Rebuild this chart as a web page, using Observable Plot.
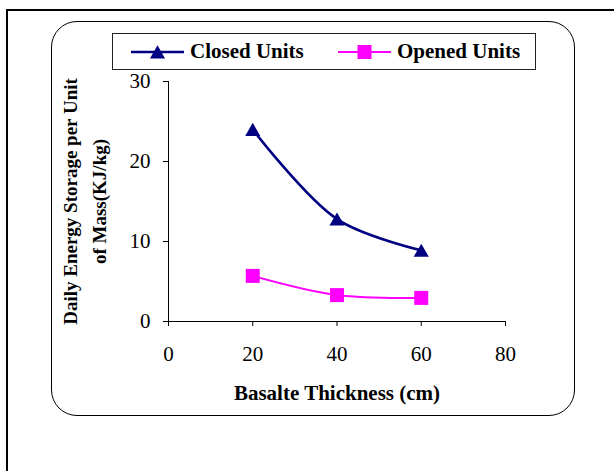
<!DOCTYPE html>
<html>
<head>
<meta charset="utf-8">
<script src="https://cdn.jsdelivr.net/npm/d3@7"></script>
<script src="https://cdn.jsdelivr.net/npm/@observablehq/plot@0.6"></script>
<style>
html, body { margin: 0; padding: 0; background: #fff; overflow: hidden; }
#wrap { position: relative; width: 614px; height: 471px; overflow: hidden; font-family: "Liberation Serif", "Times New Roman", serif; }
#outer { position: absolute; left: 6px; top: 9px; width: 700px; height: 600px; border: 2px solid #000; }
#panel { position: absolute; left: 51px; top: 21px; width: 524px; height: 395px; border: 1px solid #000; border-radius: 26px; box-sizing: border-box; }
#chart { position: absolute; left: 0; top: 0; }
#legend { position: absolute; left: 112px; top: 33px; width: 424px; height: 37px; border: 1px solid #222; box-sizing: border-box; background: #fff; }
.item { position: absolute; top: 0; height: 35px; display: flex; align-items: center; }
.item span { font-family: "Liberation Serif", serif; font-weight: bold; font-size: 21px; color: #000; margin-left: 5px; white-space: nowrap; }
</style>
</head>
<body>
<div id="wrap">
  <div id="outer"></div>
  <div id="panel"></div>
  <div id="chart"></div>
  <div id="legend"></div>
</div>
<script>
// ---- data ----
const thickness = [20, 40, 60];
const closedUnits = [24, 12.8, 8.9];
const openedUnits = [5.7, 3.3, 2.95];
const seriesNames = ["Closed Units", "Opened Units"];
const seriesColors = ["#000080", "#FF00FF"];
const xTicks = [0, 20, 40, 60, 80];
const yTicks = [0, 10, 20, 30];
const xTitle = "Basalte Thickness (cm)";
const yTitle = "Daily Energy Storage per Unit\nof Mass(KJ/kg)";

const closedRows = thickness.map((t, i) => ({series: seriesNames[0], x: t, y: closedUnits[i]}));
const openedRows = thickness.map((t, i) => ({series: seriesNames[1], x: t, y: openedUnits[i]}));

// custom symbols (bbox-centred like spreadsheet markers)
const triangleSym = {
  draw(ctx, size) {
    const r = Math.sqrt(size / Math.PI);
    ctx.moveTo(0, -0.95 * r);
    ctx.lineTo(1.08 * r, 0.92 * r);
    ctx.lineTo(-1.08 * r, 0.92 * r);
    ctx.closePath();
  }
};
const squareSym = {
  draw(ctx, size) {
    const r = Math.sqrt(size / Math.PI);
    ctx.rect(-r, -r, 2 * r, 2 * r);
  }
};

const FONT = "Liberation Serif, Times New Roman, serif";

const chart = Plot.plot({
  width: 614,
  height: 471,
  marginLeft: 168,
  marginRight: 109,
  marginTop: 81,
  marginBottom: 150,
  style: {background: "transparent", fontFamily: FONT, fontSize: "21px", color: "#000"},
  x: {domain: [0, 80]},
  y: {domain: [0, 30]},
  marks: [
    Plot.axisX({ticks: xTicks, tickSize: 5, tickPadding: 20, label: null, tickFormat: d => d,
      fontFamily: FONT, fontSize: 21, stroke: "#000", fill: "#000"}),
    Plot.axisY({ticks: yTicks, tickSize: 5, tickPadding: 13, label: null, tickFormat: d => d,
      fontFamily: FONT, fontSize: 21, stroke: "#000", fill: "#000"}),
    Plot.ruleX([0], {stroke: "#000", strokeWidth: 1}),
    Plot.ruleY([0], {stroke: "#000", strokeWidth: 1}),
    Plot.line(openedRows, {x: "x", y: "y", stroke: seriesColors[1], strokeWidth: 2, curve: "catmull-rom"}),
    Plot.line(closedRows, {x: "x", y: "y", stroke: seriesColors[0], strokeWidth: 2.6, curve: "catmull-rom"}),
    Plot.dot(openedRows, {x: "x", y: "y", symbol: squareSym, r: 7, fill: seriesColors[1], stroke: "none"}),
    Plot.dot(closedRows, {x: "x", y: "y", symbol: triangleSym, r: 7, fill: seriesColors[0], stroke: "none"}),
    Plot.text([xTitle], {frameAnchor: "bottom", dy: 78, text: d => d, fontWeight: "bold", fontSize: 21,
      fontFamily: FONT, fill: "#000", textAnchor: "middle"}),
    Plot.text([yTitle], {frameAnchor: "left", rotate: -90, dx: -86, text: d => d, fontWeight: "bold", fontSize: 19,
      fontFamily: FONT, lineHeight: 1.5, fill: "#000", textAnchor: "middle", lineAnchor: "middle"})
  ]
});
document.getElementById("chart").appendChild(chart);

// ---- legend ----
const legend = d3.select("#legend");
const symbols = [triangleSym, squareSym];
const widths = [2.6, 2];
seriesNames.forEach((name, i) => {
  const item = legend.append("div").attr("class", "item").style("left", (17 + i * 207) + "px");
  const svg = item.append("svg").attr("width", 55).attr("height", 35);
  svg.append("line").attr("x1", 1).attr("x2", 54).attr("y1", 18).attr("y2", 18)
    .attr("stroke", seriesColors[i]).attr("stroke-width", widths[i]);
  svg.append("path").attr("transform", "translate(27.5,18)")
    .attr("d", d3.symbol().type(symbols[i]).size(Math.PI * 49)())
    .attr("fill", seriesColors[i]);
  item.append("span").text(name);
});
</script>
</body>
</html>
